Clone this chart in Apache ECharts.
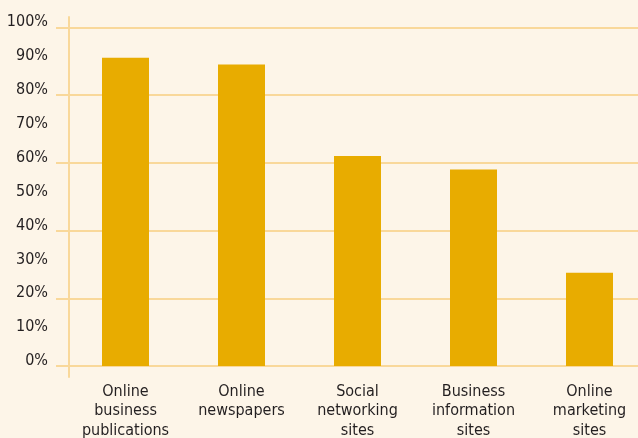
<!DOCTYPE html>
<html>
<head>
<meta charset="utf-8">
<script src="https://cdn.jsdelivr.net/npm/echarts@6/dist/echarts.min.js"></script>
<style>
  html, body { margin: 0; padding: 0; background: #fdf5e8; }
  #chart { width: 638px; height: 438px; }
</style>
</head>
<body>
<div id="chart"></div>
<script>
// Share of respondents using each source
const categories = [
  'Online\nbusiness\npublications',
  'Online\nnewspapers',
  'Social\nnetworking\nsites',
  'Business\ninformation\nsites',
  'Online\nmarketing\nsites'
];
const shares = [91, 89, 62, 58, 27.5];
const yTicks = [0, 10, 20, 30, 40, 50, 60, 70, 80, 90, 100];

const gridColor = '#f9d89a';
const barColor = '#e8ac00';
const textColor = '#231f20';
const condensed = '"DejaVu Sans Condensed", "Liberation Sans Narrow", sans-serif';

const chart = echarts.init(document.getElementById('chart'), null, { renderer: 'canvas' });

chart.setOption({
  backgroundColor: '#fdf5e8',
  animation: false,
  grid: [
    // bars and category labels (last slot runs past the right edge)
    { left: 67.5, width: 580, top: 27.3, bottom: 72, outerBoundsMode: 'none', containLabel: false },
    // horizontal rules and percent labels
    { left: 56, right: 0, top: 27.3, bottom: 72, outerBoundsMode: 'none', containLabel: false },
    // vertical axis rule
    { left: 69, width: 1, top: 17, bottom: 61, outerBoundsMode: 'none', containLabel: false }
  ],
  xAxis: [
    {
      gridIndex: 0,
      type: 'category',
      data: categories,
      axisLine: { show: false },
      axisTick: { show: false },
      axisLabel: {
        interval: 0,
        margin: 16,
        color: textColor,
        fontFamily: condensed,
        fontSize: 16,
        lineHeight: 19.5
      }
    },
    { gridIndex: 1, type: 'value', show: false },
    { gridIndex: 2, type: 'value', show: false }
  ],
  yAxis: [
    { gridIndex: 0, type: 'value', min: 0, max: 100, show: false },
    {
      gridIndex: 1,
      type: 'value',
      min: yTicks[0],
      max: yTicks[yTicks.length - 1],
      interval: 10,
      axisLine: { show: false },
      axisTick: { show: false },
      axisLabel: {
        margin: 8,
        color: textColor,
        fontFamily: condensed,
        fontSize: 16,
        verticalAlign: 'bottom',
        lineHeight: 10,
        formatter: v => v + '%'
      },
      splitLine: {
        show: true,
        lineStyle: { color: [gridColor, 'rgba(0,0,0,0)'], width: 2 }
      }
    },
    {
      gridIndex: 2,
      type: 'value',
      min: 0,
      max: 1,
      axisLine: { show: true, lineStyle: { color: gridColor, width: 2 } },
      axisTick: { show: false },
      axisLabel: { show: false },
      splitLine: { show: false }
    }
  ],
  series: [
    {
      type: 'bar',
      xAxisIndex: 0,
      yAxisIndex: 0,
      data: shares,
      barWidth: 47,
      itemStyle: { color: barColor },
      z: 3
    }
  ]
});
</script>
</body>
</html>
